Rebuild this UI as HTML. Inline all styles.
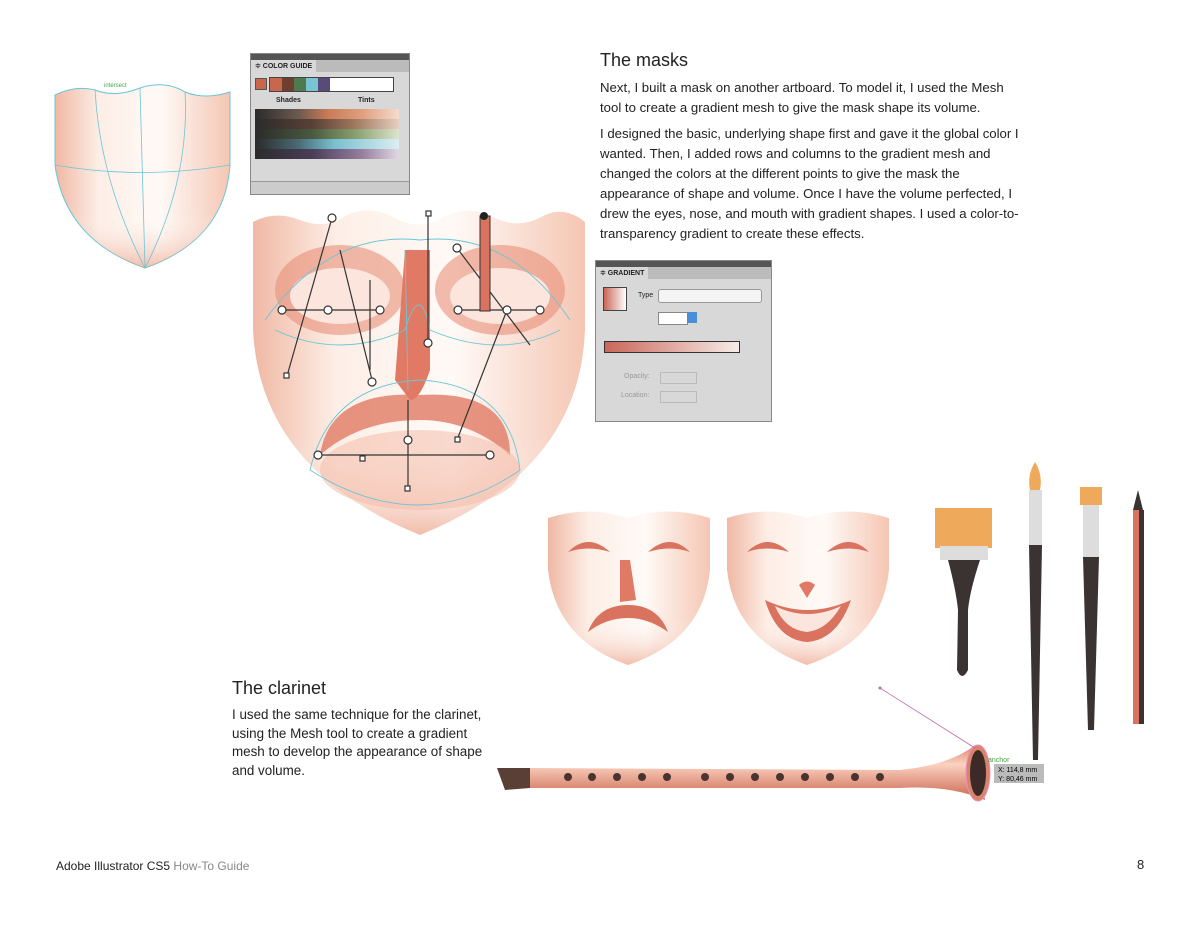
<!DOCTYPE html>
<html><head><meta charset="utf-8"><style>
body{margin:0;background:#fff;width:1200px;height:927px;position:relative;overflow:hidden;font-family:"Liberation Sans",sans-serif;color:#222}
.t{position:absolute;font-size:13.2px;line-height:20px;color:#222;white-space:nowrap}
h2{position:absolute;margin:0;font-weight:normal;font-size:18px;color:#222}
.panel{position:absolute;background:#d8d8d8;border:1px solid #888;font-size:7px}
</style></head><body>
<h2 style="left:600px;top:50px">The masks</h2>
<div class="t" style="left:600px;top:78px">Next, I built a mask on another artboard. To model it, I used the Mesh<br>tool to create a gradient mesh to give the mask shape its volume.</div>
<div class="t" style="left:600px;top:124px">I designed the basic, underlying shape first and gave it the global color I<br>wanted. Then, I added rows and columns to the gradient mesh and<br>changed the colors at the different points to give the mask the<br>appearance of shape and volume. Once I have the volume perfected, I<br>drew the eyes, nose, and mouth with gradient shapes. I used a color-to-<br>transparency gradient to create these effects.</div>
<h2 style="left:232px;top:678px">The clarinet</h2>
<div class="t" style="left:232px;top:706px;line-height:18.5px;font-size:13.4px">I used the same technique for the clarinet,<br>using the Mesh tool to create a gradient<br>mesh to develop the appearance of shape<br>and volume.</div>
<div style="position:absolute;left:56px;top:859px;font-size:12px">Adobe Illustrator CS5 <span style="color:#888">How-To Guide</span></div>
<div style="position:absolute;left:1137px;top:857px;font-size:13px">8</div>

<svg width="1200" height="927" style="position:absolute;left:0;top:0">
<defs>
<linearGradient id="sk" x1="0" x2="1"><stop offset="0" stop-color="#f0b8a4"/><stop offset=".25" stop-color="#fdeee6"/><stop offset=".6" stop-color="#fffaf7"/><stop offset="1" stop-color="#f5c6b3"/></linearGradient>
<linearGradient id="skv" x1="0" y1="0" x2="0" y2="1"><stop offset="0" stop-color="#fbe3d6" stop-opacity="0"/><stop offset=".7" stop-color="#fff" stop-opacity="0"/><stop offset="1" stop-color="#e9977c" stop-opacity=".6"/></linearGradient>
<linearGradient id="cl" x1="0" y1="0" x2="0" y2="1"><stop offset="0" stop-color="#d9826c"/><stop offset=".35" stop-color="#fbd2c0"/><stop offset="1" stop-color="#c9644d"/></linearGradient>
</defs>
<path d="M55 95 Q75 85 95 90 Q115 98 140 88 Q165 80 185 92 Q205 100 230 92 L230 165 Q225 240 145 268 Q65 240 55 165 Z" fill="url(#sk)" stroke="#6cc5d6" stroke-width="1"/>
<path d="M55 95 Q75 85 95 90 Q115 98 140 88 Q165 80 185 92 Q205 100 230 92 L230 165 Q225 240 145 268 Q65 240 55 165 Z" fill="url(#skv)"/>
<g stroke="#6cc5d6" fill="none" stroke-width=".8"><path d="M95 90 Q100 180 145 268"/><path d="M140 88 L145 268"/><path d="M185 92 Q190 180 145 268"/><path d="M55 165 Q140 180 230 165"/></g>
<text x="104" y="87" font-size="6" fill="#4a4">intersect</text>
<g>
<path d="M253 222 Q275 210 300 220 Q325 230 345 216 Q370 204 395 218 Q420 232 445 216 Q470 204 495 218 Q520 230 545 215 Q565 206 585 222 L585 330 Q580 470 420 535 Q260 470 253 330 Z" fill="url(#sk)"/>
<path d="M253 222 Q275 210 300 220 Q325 230 345 216 Q370 204 395 218 Q420 232 445 216 Q470 204 495 218 Q520 230 545 215 Q565 206 585 222 L585 330 Q580 470 420 535 Q260 470 253 330 Z" fill="url(#skv)"/>
<ellipse cx="340" cy="290" rx="65" ry="45" fill="#e88f78" opacity=".6"/><ellipse cx="340" cy="296" rx="50" ry="28" fill="#fbe5dc"/>
<ellipse cx="500" cy="290" rx="65" ry="45" fill="#e88f78" opacity=".6"/><ellipse cx="500" cy="296" rx="50" ry="28" fill="#fbe5dc"/>
<path d="M405 250 L430 250 L430 370 Q420 400 410 400 L395 380 Z" fill="#e07a64"/>
<path d="M320 455 Q330 390 420 395 Q510 390 510 455 Q470 420 420 420 Q360 420 320 455Z" fill="#e07a64" opacity=".8"/>
<ellipse cx="420" cy="470" rx="100" ry="40" fill="#f4b7a3" opacity=".5"/>
<g stroke="#6cc5d6" fill="none" stroke-width=".9"><path d="M265 320 Q330 230 420 240 Q510 230 570 320"/><path d="M275 330 Q340 360 405 330 Q420 280 430 330 Q500 360 560 330"/><path d="M310 470 Q330 385 420 380 Q510 385 520 470 Q420 540 310 470Z"/><path d="M405 250 L408 390"/></g>
<g stroke="#333" stroke-width="1.2" fill="#fff"><line x1="282" y1="310" x2="380" y2="310"/><line x1="332" y1="218" x2="287" y2="376"/><line x1="340" y1="250" x2="372" y2="380"/><line x1="457" y1="248" x2="530" y2="345"/><line x1="428" y1="213" x2="428" y2="345"/><line x1="458" y1="310" x2="540" y2="310"/><line x1="507" y1="310" x2="457" y2="440"/><line x1="318" y1="455" x2="492" y2="455"/><line x1="408" y1="400" x2="408" y2="490"/><line x1="370" y1="370" x2="370" y2="280"/>
<circle cx="332" cy="218" r="4"/><circle cx="380" cy="310" r="4"/><circle cx="282" cy="310" r="4"/><circle cx="328" cy="310" r="4"/><circle cx="372" cy="382" r="4"/><circle cx="428" cy="343" r="4"/><circle cx="457" cy="248" r="4"/><circle cx="458" cy="310" r="4"/><circle cx="507" cy="310" r="4"/><circle cx="540" cy="310" r="4"/><circle cx="318" cy="455" r="4"/><circle cx="490" cy="455" r="4"/><circle cx="408" cy="440" r="4"/><rect x="405" y="486" width="5" height="5"/><rect x="284" y="373" width="5" height="5"/><rect x="455" y="437" width="5" height="5"/><rect x="360" y="456" width="5" height="5"/><rect x="426" y="211" width="5" height="5"/></g>
<rect x="480" y="216" width="10" height="95" fill="#d9735f" stroke="#333"/><circle cx="484" cy="216" r="4" fill="#222"/>
</g>
<g transform="translate(548,510)">
<path d="M0 8 Q40 -5 80 8 Q120 -5 162 8 L162 60 Q155 130 80 155 Q8 130 0 60Z" fill="url(#sk)"/>
<path d="M0 8 Q40 -5 80 8 Q120 -5 162 8 L162 60 Q155 130 80 155 Q8 130 0 60Z" fill="url(#skv)"/>
<path d="M20 42 Q40 22 62 42 Q40 35 20 42Z" fill="#d9735f"/><path d="M100 42 Q122 22 142 42 Q122 35 100 42Z" fill="#d9735f"/>
<path d="M72 50 L82 50 L88 90 L72 92Z" fill="#e07a64"/>
<path d="M40 122 Q50 95 80 95 Q110 95 120 122 Q100 108 80 108 Q58 108 40 122Z" fill="#d9735f"/>
</g>
<g transform="translate(727,510)">
<path d="M0 8 Q40 -5 80 8 Q120 -5 162 8 L162 60 Q155 130 80 155 Q8 130 0 60Z" fill="url(#sk)"/>
<path d="M0 8 Q40 -5 80 8 Q120 -5 162 8 L162 60 Q155 130 80 155 Q8 130 0 60Z" fill="url(#skv)"/>
<path d="M20 42 Q40 22 62 42 Q40 35 20 42Z" fill="#d9735f"/><path d="M100 42 Q122 22 142 42 Q122 35 100 42Z" fill="#d9735f"/>
<path d="M72 75 Q80 68 88 75 L80 88Z" fill="#e07a64"/>
<path d="M38 90 Q80 110 124 90 Q110 130 80 132 Q50 130 38 90Z" fill="#d9735f"/><path d="M48 96 Q80 112 114 96 Q100 120 80 122 Q58 120 48 96Z" fill="#fbe5dc"/>
</g>
<rect x="935" y="508" width="57" height="40" fill="#efa95b"/><rect x="940" y="546" width="48" height="14" fill="#ddd"/>
<path d="M948 560 L980 560 Q970 590 968 610 L968 670 Q962 682 957 670 L958 610 Q956 590 948 560Z" fill="#3a3331"/>
<path d="M1035 462 Q1043 475 1040 490 L1030 490 Q1027 475 1035 462Z" fill="#efa95b"/><rect x="1029" y="490" width="13" height="55" fill="#ddd"/><path d="M1029 545 L1042 545 L1038 760 L1033 760Z" fill="#3a3331"/>
<rect x="1080" y="487" width="22" height="18" fill="#efa95b"/><rect x="1083" y="505" width="16" height="52" fill="#ddd"/><path d="M1083 557 L1099 557 L1094 730 L1088 730Z" fill="#3a3331"/>
<path d="M1138 490 L1143 510 L1133 510Z" fill="#3a3331"/><rect x="1133" y="510" width="11" height="214" fill="#d9735f"/><rect x="1139" y="510" width="5" height="214" fill="#3a3331"/>
<path d="M497 768 L530 768 L530 788 L505 790Z" fill="#5a3f36"/>
<path d="M530 768 L900 770 Q950 765 975 745 L985 800 Q950 785 900 788 L530 788Z" fill="url(#cl)"/>
<ellipse cx="978" cy="773" rx="12" ry="28" fill="#d9826c" stroke="#ed8fc4"/><ellipse cx="978" cy="773" rx="8" ry="23" fill="#3b2a25"/>
<g fill="#4a3430"><circle cx="568" cy="777" r="4"/><circle cx="592" cy="777" r="4"/><circle cx="617" cy="777" r="4"/><circle cx="642" cy="777" r="4"/><circle cx="667" cy="777" r="4"/><circle cx="705" cy="777" r="4"/><circle cx="730" cy="777" r="4"/><circle cx="755" cy="777" r="4"/><circle cx="780" cy="777" r="4"/><circle cx="805" cy="777" r="4"/><circle cx="830" cy="777" r="4"/><circle cx="855" cy="777" r="4"/><circle cx="880" cy="777" r="4"/></g>
<line x1="880" y1="688" x2="975" y2="748" stroke="#c06aa6" stroke-width=".8"/><circle cx="880" cy="688" r="1.5" fill="#c06aa6"/>
<text x="988" y="762" font-size="7" fill="#4a4">anchor</text>
<rect x="994" y="764" width="50" height="19" fill="#bbb"/><text x="998" y="772" font-size="7">X: 114,8 mm</text><text x="998" y="781" font-size="7">Y: 80,46 mm</text>
</svg>

<div class="panel" style="left:250px;top:53px;width:158px;height:140px">
<div style="height:6px;background:#555"></div>
<div style="height:12px;background:#bbb;"><span style="display:inline-block;background:#d8d8d8;padding:2px 4px;font-weight:bold">≑ COLOR GUIDE</span></div>
<div style="position:absolute;left:4px;top:24px;width:10px;height:10px;background:#c8674e;border:1px solid #555"></div>
<div style="position:absolute;left:18px;top:23px;width:123px;height:13px;background:#fff;border:1px solid #444;display:flex"><i style="width:12px;background:#c8674e"></i><i style="width:12px;background:#6e3e2e"></i><i style="width:12px;background:#4e7a50"></i><i style="width:12px;background:#7ac3d2"></i><i style="width:12px;background:#5a4a7a"></i></div>
<div style="position:absolute;left:25px;top:43px;font-weight:bold">Shades</div><div style="position:absolute;left:107px;top:43px;font-weight:bold">Tints</div>
<div style="position:absolute;left:4px;top:55px;width:144px;height:10px;background:linear-gradient(90deg,#2b2b2b,#6a5a50 30%,#c87a55 50%,#e0a080 75%,#f6dccc 100%)"></div>
<div style="position:absolute;left:4px;top:65px;width:144px;height:10px;background:linear-gradient(90deg,#2b2b2b,#5a4036 40%,#a07a60 70%,#e6cfc0)"></div>
<div style="position:absolute;left:4px;top:75px;width:144px;height:10px;background:linear-gradient(90deg,#2b2b2b,#4a5a40 40%,#8aa070 70%,#dde4cc)"></div>
<div style="position:absolute;left:4px;top:85px;width:144px;height:10px;background:linear-gradient(90deg,#2b2b2b,#4a6a74 30%,#78c0d0 55%,#dceef2)"></div>
<div style="position:absolute;left:4px;top:95px;width:144px;height:10px;background:linear-gradient(90deg,#2b2b2b,#4a3e5a 40%,#9a80a0 75%,#e0d8e4)"></div>
<div style="position:absolute;left:0;bottom:0;width:158px;height:12px;background:#ccc;border-top:1px solid #999"></div>
</div>
<div class="panel" style="left:595px;top:260px;width:175px;height:160px">
<div style="height:6px;background:#555"></div>
<div style="height:12px;background:#bbb"><span style="display:inline-block;background:#d8d8d8;padding:2px 4px;font-weight:bold">≑ GRADIENT</span></div>
<div style="position:absolute;left:7px;top:26px;width:22px;height:22px;background:linear-gradient(90deg,#c9675a,#fff);border:1px solid #444"></div>
<div style="position:absolute;left:42px;top:31px">Type</div>
<div style="position:absolute;left:62px;top:28px;width:102px;height:12px;background:#f4f4f4;border:1px solid #999;border-radius:3px"></div>
<div style="position:absolute;left:62px;top:51px;width:28px;height:11px;background:#fff;border:1px solid #888"></div><div style="position:absolute;left:91px;top:51px;width:10px;height:11px;background:#4a8ed8"></div>
<div style="position:absolute;left:8px;top:80px;width:134px;height:10px;background:linear-gradient(90deg,#c9675a,#f8ece8);border:1px solid #333"></div>
<div style="position:absolute;left:28px;top:112px;color:#999">Opacity:</div><div style="position:absolute;left:25px;top:131px;color:#999">Location:</div>
<div style="position:absolute;left:64px;top:111px;width:35px;height:10px;border:1px solid #bbb"></div><div style="position:absolute;left:64px;top:130px;width:35px;height:10px;border:1px solid #bbb"></div>
</div>
</body></html>
